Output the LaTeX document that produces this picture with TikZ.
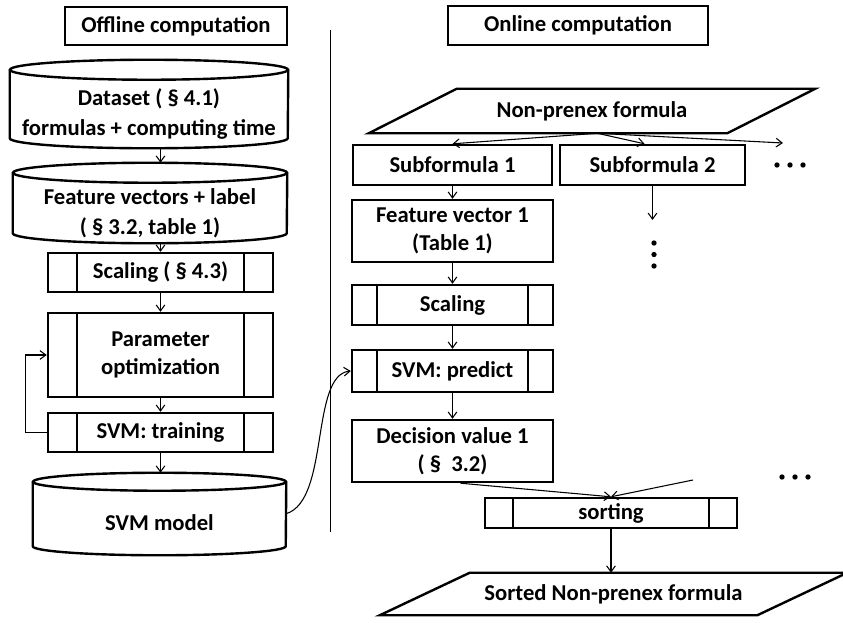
\documentclass[tikz,border=0pt]{standalone}
\usepackage{fontspec}
\setmainfont{Carlito}
\usetikzlibrary{arrows.meta,calc}

% database cylinder around a node whose box is the body below the top ellipse
\newcommand\drawdb[3]{% node, x radius, y radius
  \draw[cyl] ([yshift=#3]#1.north west) -- ([yshift=#3]#1.south west)
    arc[start angle=180,end angle=360,x radius=#2,y radius=#3]
    -- ([yshift=#3]#1.north east);
  \draw[cyl] ([yshift=#3]#1.north) ellipse[x radius=#2,y radius=#3];}

% data parallelogram around a node (slant given as a length)
\newcommand\drawio[2]{%
  \draw[cyl] (#1.north west) -- ([xshift=#2]#1.north east) -- (#1.south east)
    -- ([xshift=-#2]#1.south west) -- cycle;}

\begin{document}
\begin{tikzpicture}[x=0.75pt,y=-0.75pt,
  every node/.style={font=\bfseries\fontsize{17}{21}\selectfont, align=center, inner sep=0pt},
  title/.style={draw, line width=0.8pt},
  plain/.style={draw, line width=1.8pt},
  proc/.style={draw, line width=1.8pt,
    path picture={\draw[line width=1.8pt]
      ([xshift=#1]path picture bounding box.north west) -- ([xshift=#1]path picture bounding box.south west)
      ([xshift=-#1]path picture bounding box.north east) -- ([xshift=-#1]path picture bounding box.south east);}},
  cyl/.style={line width=1.8pt},
  arr/.style={-{Straight Barb[length=4.5pt,width=6.5pt]}, line width=0.8pt},
]
\useasboundingbox (0,0) rectangle (843,622);

% ---------------- titles and divider ----------------
\node[title, minimum width=166.5pt, minimum height=28.5pt] (offt) at (176,26) {Offline computation};
\node[title, minimum width=195pt, minimum height=29.25pt] (ont) at (578,25.5) {Online computation};
\draw[line width=0.7pt] (330,30) -- (330,532);

% ---------------- offline column ----------------
\node[minimum width=208.5pt, minimum height=51pt] (ds) at (149,114)
  {Dataset ( \S\ 4.1)\\[1.5pt]formulas + computing time};
\drawdb{ds}{104.25pt}{7.5pt}

\node[minimum width=205.5pt, minimum height=45pt] (feat) at (150,213)
  {Feature vectors + label\\[1.5pt]( \S\ 3.2, table 1)};
\drawdb{feat}{102.75pt}{7.5pt}

\node[proc=21.75pt, minimum width=168.75pt, minimum height=29.25pt] (scal) at (160.5,272.5) {Scaling ( \S\ 4.3)};
\node[proc=21.75pt, minimum width=168.75pt, minimum height=63pt] (param) at (160.5,355) {Parameter\\optimization};
\node[proc=21.75pt, minimum width=168.75pt, minimum height=29.25pt] (train) at (160.5,432.5) {SVM: training};

\node[minimum width=189.75pt, minimum height=48pt] (model) at (159.5,523) {SVM model};
\drawdb{model}{94.875pt}{6.75pt}

\coordinate (feattop) at ([yshift=15pt]feat.north);
\coordinate (modeltop) at ([yshift=13.5pt]model.north);
\draw[arr] (ds.south -| scal.north) -- (feattop -| scal.north);
\draw[arr] (feat.south -| scal.north) -- (scal.north);
\draw[arr] (scal.south) -- (param.north);
\draw[arr] (param.south) -- (train.north);
\draw[arr] (train.south) -- (train.south |- modeltop);
\draw[arr] (train.west) -- ++(-21,0) |- (param.west);

% ---------------- online column ----------------
\node[minimum width=202.5pt, minimum height=33pt] (np) at (592,111) {Non-prenex formula};
\drawio{np}{66pt}

\node[plain, minimum width=149.25pt, minimum height=30pt] (sub1) at (452.5,165) {Subformula 1};
\node[plain, minimum width=138.75pt, minimum height=30pt] (sub2) at (652.5,165) {Subformula 2};
\fill (777,165) circle[radius=2pt] (790,165) circle[radius=2pt] (803,165) circle[radius=2pt];

\coordinate (fan) at ([xshift=4pt]np.south);
\coordinate (more) at (783,143);
\draw[arr] (fan) -- (sub1.north);
\draw[arr] (fan) -- ([xshift=-6pt]sub2.north);
\draw[arr] (fan) -- (more);

\node[plain, minimum width=150.75pt, minimum height=46.5pt] (fv) at (452.5,231) {Feature vector 1\\(Table 1)};
\node[proc=18.75pt, minimum width=150.75pt, minimum height=30pt] (scal2) at (452.5,305) {Scaling};
\node[proc=18.75pt, minimum width=150.75pt, minimum height=31.5pt] (pred) at (452.5,371) {SVM: predict};
\node[plain, minimum width=150.75pt, minimum height=46.5pt] (dec) at (452.5,451) {Decision value 1\\( \S\ \ 3.2)};

\coordinate (sub2end) at (652.5,220);
\draw[arr] (sub2.south) -- (sub2end);
\fill (654,243) circle[radius=2pt] (654,254.5) circle[radius=2pt] (654,266) circle[radius=2pt];
\fill (782,477) circle[radius=2pt] (795,477) circle[radius=2pt] (808,477) circle[radius=2pt];

\draw[arr] (sub1.south) -- (fv.north);
\draw[arr] (fv.south) -- (scal2.north);
\draw[arr] (scal2.south) -- (pred.north);
\draw[arr] (pred.south) -- (dec.south |- pred.south) -- (dec.north);

\node[proc=21pt, minimum width=189pt, minimum height=22.5pt] (sort) at (611,513) {sorting};
\coordinate (decmore) at (693,480);
\draw[arr] ([xshift=6pt]dec.south) -- (sort.north);
\draw[arr] (decmore) -- (sort.north);

\node[minimum width=215.25pt, minimum height=31.5pt] (sorted) at (613.5,594) {Sorted Non-prenex formula};
\drawio{sorted}{67.5pt}
\draw[arr] (sort.south) -- (sort.south |- sorted.north);

% model feeds the prediction step
\coordinate (mout) at ([yshift=7pt]model.east);
\draw[arr] (mout) .. controls (330,500) and (310,375) .. (pred.west);
\end{tikzpicture}
\end{document}
